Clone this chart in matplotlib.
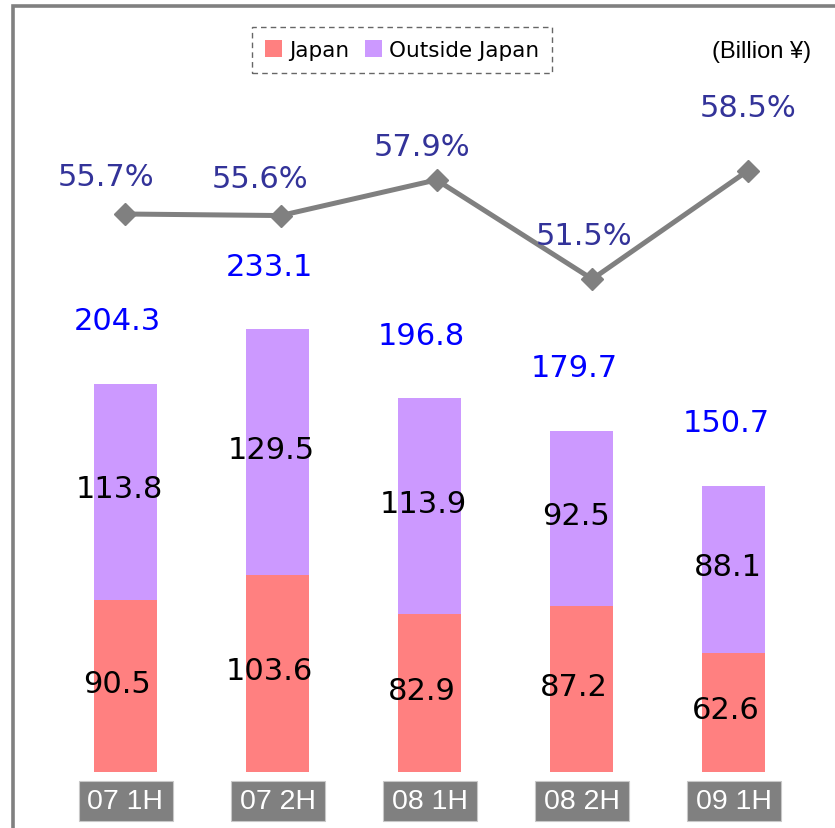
import matplotlib
matplotlib.use("Agg")
import matplotlib.pyplot as plt
import matplotlib.patches as patches
from matplotlib.lines import Line2D
from matplotlib.transforms import blended_transform_factory

### Data
periods = ["07 1H", "07 2H", "08 1H", "08 2H", "09 1H"]
japan = [90.5, 103.6, 82.9, 87.2, 62.6]
outside = [113.8, 129.5, 113.9, 92.5, 88.1]
totals = [204.3, 233.1, 196.8, 179.7, 150.7]
outside_ratio = [55.7, 55.6, 57.9, 51.5, 58.5]

### Colors
japanColor = '#FF8080'
outsideColor = '#CC99FF'
lineColor = '#808080'
pctColor = '#333399'
totalColor = '#0000FF'

# label offsets for the ratio line (pixels, relative to marker)
pctOffsets = [(-19, 37), (-21, 37), (-14, 33), (-8, 44), (0, 63)]

W, H = 835, 829
fig = plt.figure(figsize=(W / 100, H / 100), dpi=100)
axPos = [0, (H - 773) / H, 1, 773 / H]

## bars
ax = fig.add_axes(axPos, frameon=False)
ax.set_xlim(-125.5 / 152.1, (W - 125.5) / 152.1)
ax.set_ylim(0, 773 / 1.9)
ax.set_xticks([])
ax.set_yticks([])
x = list(range(len(periods)))
b1 = ax.bar(x, japan, width=0.414, color=japanColor, label="Japan")
b2 = ax.bar(x, outside, width=0.414, bottom=japan, color=outsideColor, label="Outside Japan")

numFont = dict(family="DejaVu Sans", fontsize=22)
for i in x:
    ax.annotate("{:.1f}".format(japan[i]), (i, japan[i] / 2), xytext=(-8, 3),
                textcoords='offset pixels', ha='center', va='center', color='black', **numFont)
    ax.annotate("{:.1f}".format(outside[i]), (i, japan[i] + outside[i] / 2), xytext=(-6, 3),
                textcoords='offset pixels', ha='center', va='center', color='black', **numFont)
    ax.annotate("{:.1f}".format(totals[i]), (i, japan[i] + outside[i]), xytext=(-8, 63),
                textcoords='offset pixels', ha='center', va='center', color=totalColor, **numFont)

# category boxes below the bars
tr = blended_transform_factory(ax.transData, ax.transAxes)
boxW = 94 / 152.1
for i, p in enumerate(periods):
    r = patches.Rectangle((i - boxW / 2, -49 / 773), boxW, 40 / 773, transform=tr,
                          facecolor='#808080', edgecolor='#C8C8C8', lw=0.8, clip_on=False)
    ax.add_patch(r)
    ax.text(i, -29 / 773, p, transform=tr, ha='center', va='center', color='white',
            family="Liberation Sans", fontsize=20.5, clip_on=False)

## ratio line
ax2 = fig.add_axes(axPos, frameon=False)
ax2.set_xlim(-125 / 155.75, (W - 125) / 155.75)
ax2.set_ylim(55.7 - (773 - 215) / 15.5, 55.7 + 215 / 15.5)
ax2.set_xticks([])
ax2.set_yticks([])
ax2.plot(x, outside_ratio, color=lineColor, lw=3.6, marker='D', ms=11, mfc=lineColor, mec=lineColor)
for i in x:
    ax2.annotate("{:.1f}%".format(outside_ratio[i]), (i, outside_ratio[i]), xytext=pctOffsets[i],
                 textcoords='offset pixels', ha='center', va='center', color=pctColor, **numFont)

## legend
leg = fig.legend(handles=[b1, b2], loc='center', bbox_to_anchor=(402 / W, 1 - 51 / H), ncol=2,
                 prop=dict(family="DejaVu Sans", size=15.5), handlelength=0.8, handleheight=0.8,
                 handletextpad=0.35, columnspacing=0.7, borderpad=0.6, borderaxespad=0,
                 fancybox=False, frameon=True)
leg.get_frame().set_edgecolor('#404040')
leg.get_frame().set_linestyle((0, (4, 3)))
leg.get_frame().set_linewidth(1.0)

fig.text(762 / W, 1 - 52 / H, "(Billion ¥)", ha='center', va='center', family="Liberation Sans", fontsize=17)

## outer frame (left and top edges)
fig.add_artist(Line2D([12.5 / W, 12.5 / W, 1], [0, 1 - 7 / H, 1 - 7 / H], transform=fig.transFigure,
                      color='#808080', lw=2.6, solid_joinstyle='miter'))

fig.savefig("out.png", dpi=100)
